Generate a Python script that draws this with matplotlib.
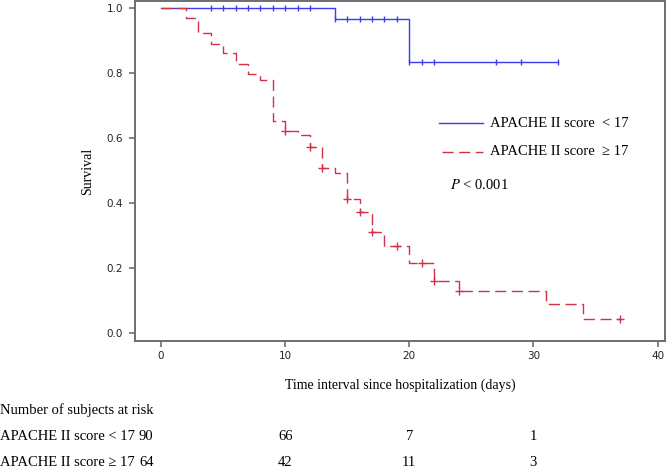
import numpy as np
import matplotlib
matplotlib.use("Agg")
import matplotlib.pyplot as plt

# Kaplan-Meier steps
low_times = [0, 14, 20, 32]
low_surv = [1.0, 0.967, 0.833, 0.833]
low_censor = [4, 5, 6, 7, 8, 9, 10, 11, 12, 14, 15, 16, 17, 18, 19, 20, 21, 22, 27, 29, 32]

high_times = [0, 2, 3, 4, 5, 6, 7, 8, 9, 10, 11, 12, 13, 14, 15, 16, 17, 18,
              20, 22, 24, 31, 34, 37]
high_surv = [1.0, 0.969, 0.922, 0.891, 0.861, 0.828, 0.796, 0.78, 0.653, 0.622,
             0.609, 0.571, 0.507, 0.492, 0.411, 0.373, 0.312, 0.268, 0.216,
             0.161, 0.129, 0.088, 0.043, 0.043]
high_censor = [10, 12, 13, 15, 16, 17, 19, 21, 22, 24, 37]

group_labels = ["APACHE II score  < 17", "APACHE II score  \u2265 17"]
risk_labels = ["APACHE II score < 17", "APACHE II score \u2265 17"]
risk_times = [0, 10, 20, 30]
risk_low = [90, 66, 7, 1]
risk_high = [64, 42, 11, 3]

BLUE = "#3b3bf0"
RED = "#d3304a"
SERIF = ["Liberation Serif", "DejaVu Serif"]

plt.rcParams["lines.scale_dashes"] = False


def surv_at(times, surv, t):
    i = np.searchsorted(times, t, side="right") - 1
    return np.asarray(surv)[i]


fig = plt.figure(figsize=(6.66, 4.70), dpi=100)
ax = fig.add_axes([135 / 666, 1 - 341 / 470, 530 / 666, 340 / 470])

ax.step(low_times, low_surv, where="post", color=BLUE, lw=1.0)
ax.plot(low_censor, surv_at(low_times, low_surv, low_censor), ls="none",
        marker="|", ms=5, mew=1.0, color=BLUE)

ax.step(high_times, high_surv, where="post", color=RED, lw=1.0,
        dashes=(8, 4))
ax.plot(high_censor, surv_at(high_times, high_surv, high_censor), ls="none",
        marker="+", ms=6, mew=1.0, color=RED)

ax.set_xlim(-2.1, 40.6)
ax.set_ylim(-0.025, 1.022)
ax.set_xticks([0, 10, 20, 30, 40])
ax.set_yticks([0.0, 0.2, 0.4, 0.6, 0.8, 1.0])
ax.set_yticklabels(["0.0", "0.2", "0.4", "0.6", "0.8", "1.0"])
for s in ax.spines.values():
    s.set_color("#6e6e6e")
    s.set_linewidth(1.4)
ax.tick_params(length=4.5, width=1.2, color="#6e6e6e", labelsize=7.5,
               labelcolor="#222222", pad=3)
ax.tick_params(axis="y", pad=4)

ax.set_ylabel("Survival", family=SERIF, fontsize=10, labelpad=9)
ax.set_xlabel("Time interval since hospitalization (days)", family=SERIF,
              fontsize=10, labelpad=12)

# legend drawn by hand, as in the reference
ax.plot([0.574, 0.657], [0.641, 0.641], transform=ax.transAxes, color=BLUE, lw=1.0)
ax.plot([0.579, 0.657], [0.556, 0.556], transform=ax.transAxes, color=RED, lw=1.0,
        dashes=(8, 4))
ax.text(0.670, 0.641, group_labels[0], transform=ax.transAxes, family=SERIF,
        fontsize=10.5, va="center")
ax.text(0.670, 0.556, group_labels[1], transform=ax.transAxes, family=SERIF,
        fontsize=10.5, va="center")
ax.text(0.594, 0.459, "$\\mathit{P}$ < 0.001", transform=ax.transAxes,
        family=SERIF, fontsize=10.5, va="center",
        math_fontfamily="stix")

# number at risk table
fig.text(0.0, 1 - 410 / 470, "Number of subjects at risk", family=SERIF,
         fontsize=10.5, va="center")
row_texts = []
for row, lab in enumerate(risk_labels):
    y = 1 - (437 + 26 * row) / 470
    row_texts.append(fig.text(0.0, y, lab, family=SERIF, fontsize=10.5,
                              va="center"))

fig.canvas.draw()
rend = fig.canvas.get_renderer()
first_x = max(t.get_window_extent(rend).x1 for t in row_texts) + 4

for row, vals in enumerate([risk_low, risk_high]):
    y = 1 - (437 + 26 * row) / 470
    for t, v in zip(risk_times, vals):
        if t == 0:
            fig.text(first_x / fig.bbox.width, y, str(v), family=SERIF,
                     fontsize=10.5, va="center", ha="left")
        else:
            xf = fig.transFigure.inverted().transform(ax.transData.transform((t, 0)))[0]
            fig.text(xf, y, str(v), family=SERIF, fontsize=10.5, va="center",
                     ha="center")

fig.savefig("out.png", dpi=100)
